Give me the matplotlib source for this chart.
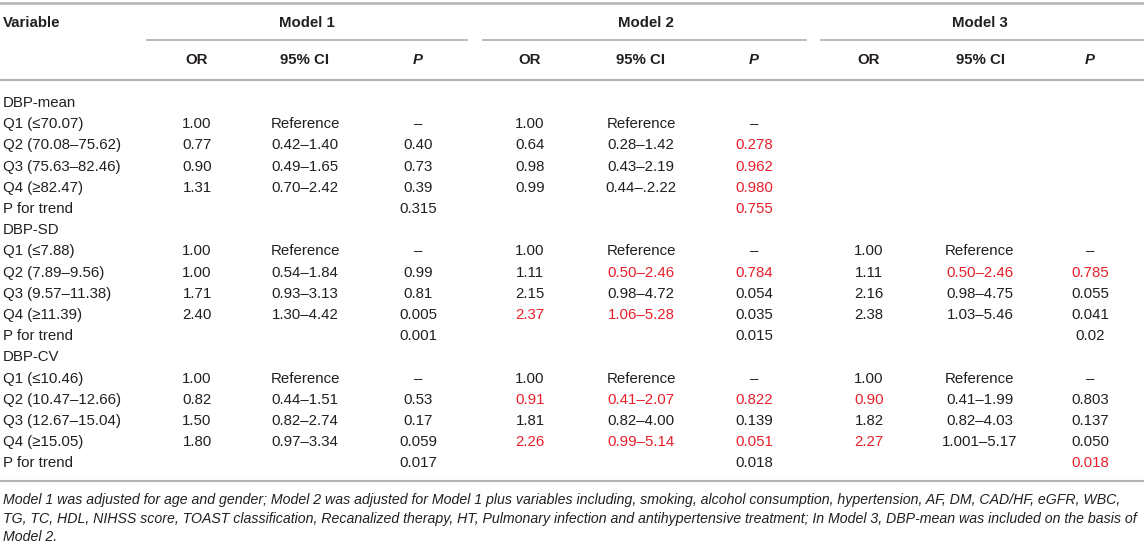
import matplotlib.pyplot as plt

# table content
row_labels = ["DBP-mean", "Q1 (≤70.07)", "Q2 (70.08–75.62)", "Q3 (75.63–82.46)", "Q4 (≥82.47)", "P for trend",
              "DBP-SD", "Q1 (≤7.88)", "Q2 (7.89–9.56)", "Q3 (9.57–11.38)", "Q4 (≥11.39)", "P for trend",
              "DBP-CV", "Q1 (≤10.46)", "Q2 (10.47–12.66)", "Q3 (12.67–15.04)", "Q4 (≥15.05)", "P for trend"]

m1_or = ["", "1.00", "0.77", "0.90", "1.31", "", "", "1.00", "1.00", "1.71", "2.40", "",
         "", "1.00", "0.82", "1.50", "1.80", ""]
m1_ci = ["", "Reference", "0.42–1.40", "0.49–1.65", "0.70–2.42", "", "", "Reference", "0.54–1.84", "0.93–3.13", "1.30–4.42", "",
         "", "Reference", "0.44–1.51", "0.82–2.74", "0.97–3.34", ""]
m1_p = ["", "–", "0.40", "0.73", "0.39", "0.315", "", "–", "0.99", "0.81", "0.005", "0.001",
        "", "–", "0.53", "0.17", "0.059", "0.017"]

m2_or = ["", "1.00", "0.64", "0.98", "0.99", "", "", "1.00", "1.11", "2.15", "2.37", "",
         "", "1.00", "0.91", "1.81", "2.26", ""]
m2_ci = ["", "Reference", "0.28–1.42", "0.43–2.19", "0.44–.2.22", "", "", "Reference", "0.50–2.46", "0.98–4.72", "1.06–5.28", "",
         "", "Reference", "0.41–2.07", "0.82–4.00", "0.99–5.14", ""]
m2_p = ["", "–", "0.278", "0.962", "0.980", "0.755", "", "–", "0.784", "0.054", "0.035", "0.015",
        "", "–", "0.822", "0.139", "0.051", "0.018"]

m3_or = ["", "", "", "", "", "", "", "1.00", "1.11", "2.16", "2.38", "",
         "", "1.00", "0.90", "1.82", "2.27", ""]
m3_ci = ["", "", "", "", "", "", "", "Reference", "0.50–2.46", "0.98–4.75", "1.03–5.46", "",
         "", "Reference", "0.41–1.99", "0.82–4.03", "1.001–5.17", ""]
m3_p = ["", "", "", "", "", "", "", "–", "0.785", "0.055", "0.041", "0.02",
        "", "–", "0.803", "0.137", "0.050", "0.018"]

model_names = ["Model 1", "Model 2", "Model 3"]
sub_headers = ["OR", "95% CI", "P"]

# highlighted cells: (column index 0..8, row index)
red_cells = {(5, 2), (5, 3), (5, 4), (5, 5),
             (4, 8), (5, 8), (3, 10), (4, 10), (7, 8), (8, 8),
             (3, 14), (4, 14), (5, 14), (3, 16), (4, 16), (5, 16),
             (6, 14), (6, 16), (8, 17)}

footnote = ["Model 1 was adjusted for age and gender; Model 2 was adjusted for Model 1 plus variables including, smoking, alcohol consumption, hypertension, AF, DM, CAD/HF, eGFR, WBC,",
            "TG, TC, HDL, NIHSS score, TOAST classification, Recanalized therapy, HT, Pulmonary infection and antihypertensive treatment; In Model 3, DBP-mean was included on the basis of",
            "Model 2."]

plt.rcParams['font.family'] = ['Liberation Sans', 'DejaVu Sans']
txt = '#231f20'
red = '#e8202a'
gray = '#b4b4b4'
fs = 10.8

fig = plt.figure(figsize=(11.44, 5.52), dpi=100)
ax = fig.add_axes([0, 0, 1, 1])
ax.set_xlim(0, 1144)
ax.set_ylim(552, 0)
ax.axis('off')

# rules
ax.plot([0, 1144], [3, 3], color=gray, lw=1.8)
ax.plot([0, 1144], [80, 80], color=gray, lw=1.5)
ax.plot([0, 1144], [481, 481], color=gray, lw=1.5)
for x0, x1 in [(147, 467), (483, 806), (821, 1144)]:
    ax.plot([x0, x1], [40, 40], color=gray, lw=1.3)

# headers
ax.text(3, 23, "Variable", fontsize=fs, fontweight='bold', color=txt, va='center', ha='left')
model_x = [307, 646, 980]
col_x = [197, 305, 418, 530, 641, 754, 869, 980, 1090]
for name, x in zip(model_names, model_x):
    ax.text(x, 23, name, fontsize=fs, fontweight='bold', color=txt, va='center', ha='center')
for i, x in enumerate(col_x):
    h = sub_headers[i % 3]
    style = 'italic' if h == 'P' else 'normal'
    ax.text(x, 60, h, fontsize=fs, fontweight='bold', fontstyle=style, color=txt, va='center', ha='center')

# body
columns = [m1_or, m1_ci, m1_p, m2_or, m2_ci, m2_p, m3_or, m3_ci, m3_p]
y0, dy = 103, 21.2
for r, lab in enumerate(row_labels):
    y = y0 + r * dy
    ax.text(3, y, lab, fontsize=fs, color=txt, va='center', ha='left')
    for c, col in enumerate(columns):
        if col[r]:
            color = red if (c, r) in red_cells else txt
            ax.text(col_x[c], y, col[r], fontsize=fs, color=color, va='center', ha='center')

for i, line in enumerate(footnote):
    ax.text(3, 500 + i * 18.5, line, fontsize=10.2, fontstyle='italic', color=txt, va='center', ha='left')

fig.savefig('out.png', dpi=100)
